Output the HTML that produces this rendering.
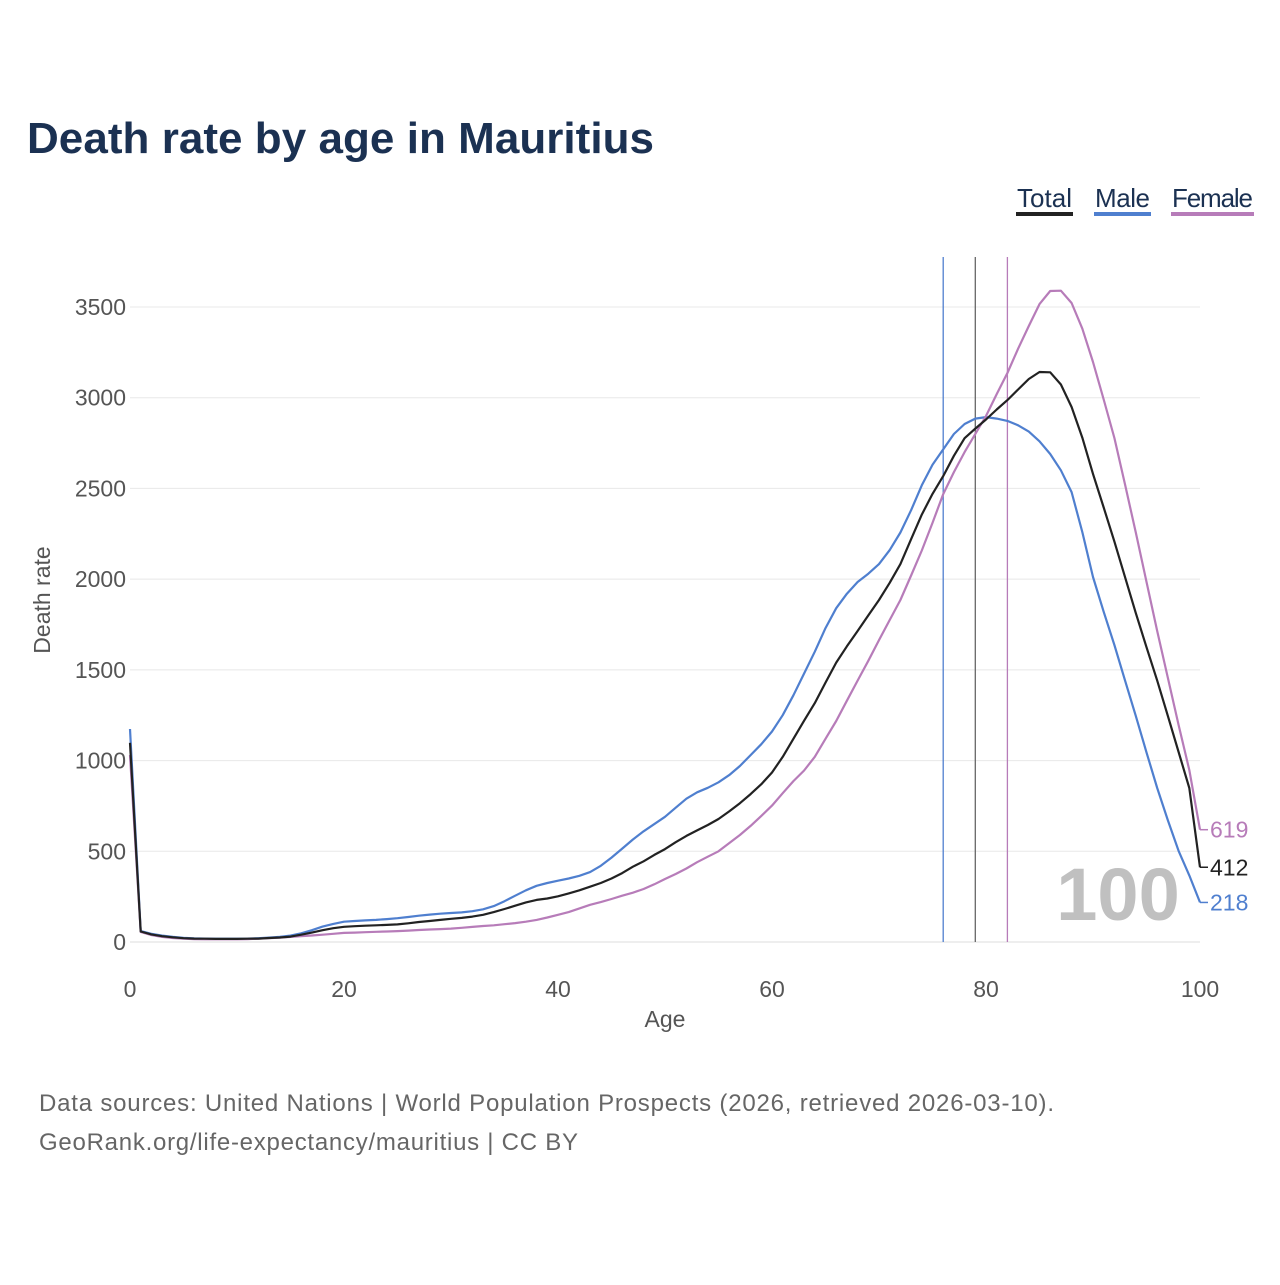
<!DOCTYPE html>
<html><head><meta charset="utf-8">
<style>
html,body{margin:0;padding:0;background:#fff;}
body{width:1280px;height:1280px;overflow:hidden;font-family:"Liberation Sans",sans-serif;}
</style></head>
<body>
<svg id="chart" width="1280" height="1280" viewBox="0 0 1280 1280" xmlns="http://www.w3.org/2000/svg" font-family="Liberation Sans, sans-serif">
<text x="27" y="153" font-size="44" font-weight="bold" fill="#1b3152" textLength="627">Death rate by age in Mauritius</text>
<g font-size="26" fill="#1b3152">
 <g><text x="1017" y="207" textLength="55">Total</text><rect x="1016" y="212" width="57" height="4" fill="#222"/></g>
 <g><text x="1095" y="207" textLength="55">Male</text><rect x="1094" y="212" width="57" height="4" fill="#4f7fcf"/></g>
 <g><text x="1172" y="207" textLength="81">Female</text><rect x="1171" y="212" width="83" height="4" fill="#b77cb9"/></g>
</g>
<g id="grid"></g>
<g id="yticks" font-size="23" fill="#555" text-anchor="end"></g>
<g id="xticks" font-size="23" fill="#555" text-anchor="middle"></g>
<text x="665" y="1027" font-size="23" fill="#555" text-anchor="middle">Age</text>
<text transform="translate(50,600) rotate(-90)" font-size="23" fill="#555" text-anchor="middle">Death rate</text>
<text x="1118" y="920" font-size="74" font-weight="bold" fill="#c0c0c0" text-anchor="middle">100</text>
<g id="vlines"></g>
<g id="series"></g>
<g id="endlabels" font-size="23"></g>
<text x="39" y="1111" font-size="24" fill="#666" textLength="1015">Data sources: United Nations | World Population Prospects (2026, retrieved 2026-03-10).</text>
<text x="39" y="1150" font-size="24" fill="#666" textLength="539">GeoRank.org/life-expectancy/mauritius | CC BY</text>
</svg>
<script>
const yTicks = [0,500,1000,1500,2000,2500,3000,3500];
const xTicks = [0,20,40,60,80,100];
const lifeExpMale = 76;
const lifeExpTotal = 79;
const lifeExpFemale = 82;
const male = [1174,60,45,35,28,23,20,19,18,18,18,19,21,24,28,35,48,65,85,100,112,116,119,122,126,131,138,145,151,156,160,163,170,180,198,225,255,285,310,325,338,350,365,385,420,465,515,565,610,650,690,740,790,825,850,880,920,970,1030,1090,1160,1250,1360,1480,1600,1730,1840,1920,1984,2030,2083,2160,2257,2380,2517,2630,2715,2800,2855,2885,2893,2885,2872,2848,2813,2760,2690,2600,2480,2260,2012,1820,1637,1440,1246,1045,849,670,502,367,218];
const total = [1098,58,42,32,26,21,19,18,17,17,17,18,19,22,25,30,40,52,65,76,84,87,90,92,94,97,103,110,116,122,128,133,140,150,165,182,200,218,232,240,252,268,285,305,325,350,380,415,445,480,512,550,585,615,645,678,720,765,815,870,934,1020,1120,1220,1317,1430,1540,1630,1714,1800,1885,1980,2083,2220,2356,2470,2568,2680,2777,2830,2880,2935,2987,3045,3103,3142,3140,3073,2949,2780,2580,2395,2207,2010,1813,1625,1441,1245,1047,849,412];
const female = [1030,55,38,28,22,18,16,15,15,15,15,16,18,21,24,28,32,36,40,45,50,52,54,56,58,60,63,66,69,71,74,78,83,88,92,98,104,112,122,135,150,165,185,205,220,237,255,272,292,318,347,375,405,440,470,500,545,590,640,695,752,820,887,945,1021,1120,1218,1330,1441,1550,1664,1775,1885,2020,2158,2310,2469,2590,2700,2800,2899,3020,3136,3270,3395,3516,3588,3590,3522,3381,3197,2990,2778,2520,2257,1985,1714,1455,1196,948,619];

const NS="http://www.w3.org/2000/svg";
const X0=130,X1=1200,Y0=942,YTOP=307;
function xs(a){return X0+(X1-X0)*a/100;}
function ys(v){return Y0-(Y0-YTOP)*v/3500;}
function mk(tag,attrs,parent){const e=document.createElementNS(NS,tag);for(const k in attrs)e.setAttribute(k,attrs[k]);parent.appendChild(e);return e;}
const grid=document.getElementById('grid'),yt=document.getElementById('yticks'),xt=document.getElementById('xticks');
yTicks.forEach(v=>{
 const l=mk('line',{x1:X0,x2:X1,y1:ys(v),y2:ys(v),stroke:v===0?'#dcdcdc':'#e8e8e8','stroke-width':1},grid);
 
 
 const t=mk('text',{x:126,y:ys(v)+8},yt);t.textContent=v;
 
 
});
xTicks.forEach(a=>{
 const t=mk('text',{x:xs(a),y:997},xt);t.textContent=a;
 
 
});
const vl=document.getElementById('vlines');
[[lifeExpMale,'#4f7fcf'],[lifeExpTotal,'#666'],[lifeExpFemale,'#b77cb9']].forEach(([a,c])=>{
 const l=mk('line',{x1:xs(a),x2:xs(a),y1:257,y2:Y0,stroke:c,'stroke-width':1.3},vl);
 
 
});
const sg=document.getElementById('series'),el=document.getElementById('endlabels');
[[male,'#4f7fcf','male'],[female,'#b77cb9','female'],[total,'#222','total']].forEach(([d,c,n])=>{
 const pts=d.map((v,i)=>xs(i).toFixed(1)+','+ys(v).toFixed(1)).join(' ');
 const p=mk('polyline',{points:pts,fill:'none',stroke:c,'stroke-width':2.2,'stroke-linejoin':'round'},sg);
 
 
 const last=d[d.length-1];
 const tk=mk('line',{x1:X1,x2:X1+8,y1:ys(last),y2:ys(last),stroke:c,'stroke-width':1.5},el);
 
 
 const t=mk('text',{x:X1+10,y:ys(last)+8,fill:c},el);t.textContent=last;
 
 
});
</script>
</body></html>
